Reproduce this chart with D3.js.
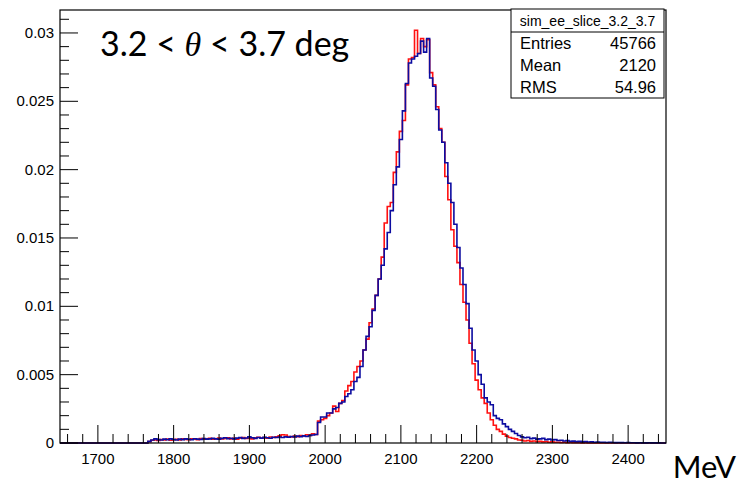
<!DOCTYPE html>
<html>
<head>
<meta charset="utf-8">
<script src="https://cdn.jsdelivr.net/npm/d3@7"></script>
<style>
  html, body { margin: 0; padding: 0; background: #fff; }
  svg { display: block; }
  text { font-family: "Liberation Sans", Arial, sans-serif; fill: #000; }
</style>
</head>
<body>
<svg id="chart" width="740" height="484"></svg>
<script>
// histogram binning: 4 MeV bins, filled values start at 1766 MeV
const xRange = [1650, 2450];
const binWidth = 4;
const firstEdge = 1766;

// bin contents (units of 1e-3)
const redValues = [
  0.10, 0.20, 0.22, 0.18, 0.25, 0.22, 0.28, 0.20, 0.24, 0.27,
  0.22, 0.30, 0.26, 0.24, 0.30, 0.28, 0.25, 0.32, 0.27, 0.30,
  0.34, 0.28, 0.31, 0.36, 0.30, 0.33, 0.38, 0.30, 0.34, 0.28,
  0.35, 0.40, 0.33, 0.36, 0.30, 0.38, 0.42, 0.35, 0.40, 0.36,
  0.44, 0.40, 0.46, 0.52, 0.60, 0.58, 0.48, 0.45, 0.50, 0.47,
  0.55, 0.52, 0.60, 0.56, 0.68, 0.62,
  1.60, 1.70, 1.80, 2.00, 2.20, 2.70, 2.30, 2.90, 3.10, 3.80,
  4.20, 4.50, 5.20, 5.60, 6.00, 6.80, 7.60, 8.80, 9.80, 10.8,
  12.0, 13.6, 16.1, 17.3, 17.6, 19.8, 21.3, 22.8, 23.6, 26.2,
  28.1, 28.2, 30.2, 28.5, 29.6, 29.0, 29.5, 27.1, 26.2, 24.6,
  23.0, 22.0, 19.5, 17.8, 15.6, 14.4, 13.2, 11.6, 10.3, 9.0,
  7.3, 5.8, 4.6, 3.9, 3.3, 2.9, 2.2, 1.7, 1.3, 1.0,
  0.85, 0.65, 0.50, 0.40, 0.35, 0.30, 0.22, 0.20, 0.15, 0.18,
  0.12, 0.15, 0.10, 0.12, 0.08, 0.10, 0.06, 0.08, 0.05, 0.06,
  0.04, 0.05, 0.03, 0.04, 0.02, 0.03, 0.02, 0.01, 0.02
];

const blueValues = [
  0.12, 0.22, 0.30, 0.25, 0.22, 0.28, 0.24, 0.30, 0.26, 0.22,
  0.28, 0.25, 0.30, 0.27, 0.24, 0.31, 0.28, 0.26, 0.33, 0.28,
  0.30, 0.35, 0.30, 0.27, 0.34, 0.38, 0.32, 0.35, 0.30, 0.36,
  0.40, 0.34, 0.37, 0.46, 0.38, 0.34, 0.40, 0.36, 0.42, 0.38,
  0.35, 0.42, 0.40, 0.44, 0.40, 0.45, 0.42, 0.48, 0.44, 0.50,
  0.46, 0.52, 0.48, 0.55, 0.58, 0.62,
  1.50, 1.90, 1.90, 2.20, 2.20, 2.50, 2.60, 2.90, 3.00, 3.40,
  3.60, 3.90, 4.50, 4.80, 5.60, 6.80, 7.80, 8.50, 9.70, 10.8,
  12.0, 13.0, 14.2, 15.4, 17.0, 18.9, 20.2, 22.2, 24.3, 26.3,
  27.8, 28.1, 28.3, 28.5, 29.4, 28.6, 29.6, 26.7, 26.1, 24.4,
  22.9, 22.0, 20.5, 19.0, 17.6, 16.0, 14.3, 12.8, 11.6, 10.2,
  8.4, 6.8, 6.0, 5.0, 4.3, 3.3, 3.0, 2.8, 2.0, 1.8,
  1.7, 1.4, 1.2, 1.0, 0.85, 0.70, 0.55, 0.45, 0.38, 0.42,
  0.32, 0.36, 0.28, 0.30, 0.34, 0.25, 0.28, 0.22, 0.25, 0.18,
  0.20, 0.15, 0.18, 0.12, 0.14, 0.10, 0.12, 0.08, 0.10, 0.07,
  0.08, 0.06, 0.07, 0.05, 0.06, 0.04, 0.05, 0.04, 0.03, 0.04,
  0.03, 0.02, 0.03, 0.02, 0.02, 0.01, 0.02, 0.01, 0.01, 0.02,
  0.01, 0.01, 0.01
];

const xMajorTicks = [1700, 1800, 1900, 2000, 2100, 2200, 2300, 2400];
const yMajorTicks = [0, 0.005, 0.01, 0.015, 0.02, 0.025, 0.03];
const yTickLabels = ["0", "0.005", "0.01", "0.015", "0.02", "0.025", "0.03"];

const statsTitle = "sim_ee_slice_3.2_3.7";
const statsRows = [["Entries", "45766"], ["Mean", "2120"], ["RMS", "54.96"]];

const frame = { left: 60, right: 666, top: 10, bottom: 443 };
const svg = d3.select("#chart");

const x = d3.scaleLinear().domain(xRange).range([frame.left, frame.right]);
const y = d3.scaleLinear().domain([0, 0.03168]).range([frame.bottom, frame.top]);

// --- step path for a histogram, zero outside the filled bins ---
function stepPath(vals) {
  const p = d3.path();
  p.moveTo(x(xRange[0]), y(0));
  p.lineTo(x(firstEdge), y(0));
  vals.forEach((v, i) => {
    const lo = firstEdge + i * binWidth;
    p.lineTo(x(lo), y(v * 1e-3));
    p.lineTo(x(lo + binWidth), y(v * 1e-3));
  });
  const end = firstEdge + vals.length * binWidth;
  p.lineTo(x(end), y(0));
  p.lineTo(x(xRange[1]), y(0));
  return p.toString();
}

// histograms (red under blue)
svg.append("path").attr("d", stepPath(redValues))
  .attr("fill", "none").attr("stroke", "#ff1010").attr("stroke-width", 1.6);
svg.append("path").attr("d", stepPath(blueValues))
  .attr("fill", "none").attr("stroke", "#0c0ca0").attr("stroke-width", 1.6);

// frame
svg.append("rect")
  .attr("x", frame.left).attr("y", frame.top)
  .attr("width", frame.right - frame.left).attr("height", frame.bottom - frame.top)
  .attr("fill", "none").attr("stroke", "#000").attr("stroke-width", 1.2);

// x ticks (inward), major every 100, minor every 20
const xMinor = d3.range(1660, 2450, 20).filter((v) => v % 100 !== 0);
svg.append("g").selectAll("line").data(xMinor).join("line")
  .attr("x1", (d) => x(d)).attr("x2", (d) => x(d))
  .attr("y1", frame.bottom).attr("y2", frame.bottom - 9)
  .attr("stroke", "#000").attr("stroke-width", 1);
svg.append("g").selectAll("line").data(xMajorTicks).join("line")
  .attr("x1", (d) => x(d)).attr("x2", (d) => x(d))
  .attr("y1", frame.bottom).attr("y2", frame.bottom - 18)
  .attr("stroke", "#000").attr("stroke-width", 1);
svg.append("g").selectAll("text").data(xMajorTicks).join("text")
  .attr("x", (d) => x(d)).attr("y", frame.bottom + 21)
  .attr("text-anchor", "middle").attr("font-size", 15)
  .text((d) => d);

// y ticks (inward), major every 0.005, minor every 0.001
const yMinor = d3.range(0, 32).map((i) => i * 0.001).filter((_, i) => i % 5 !== 0);
svg.append("g").selectAll("line").data(yMinor).join("line")
  .attr("x1", frame.left).attr("x2", frame.left + 9)
  .attr("y1", (d) => y(d)).attr("y2", (d) => y(d))
  .attr("stroke", "#000").attr("stroke-width", 1);
svg.append("g").selectAll("line").data(yMajorTicks).join("line")
  .attr("x1", frame.left).attr("x2", frame.left + 18)
  .attr("y1", (d) => y(d)).attr("y2", (d) => y(d))
  .attr("stroke", "#000").attr("stroke-width", 1);
svg.append("g").selectAll("text").data(yMajorTicks).join("text")
  .attr("x", frame.left - 6).attr("y", (d) => y(d) + 5)
  .attr("text-anchor", "end").attr("font-size", 15)
  .text((d, i) => yTickLabels[i]);

// unit label
svg.append("text").attr("x", 736).attr("y", 478).attr("text-anchor", "end")
  .style("font-family", "Lato, 'Open Sans', sans-serif").attr("font-size", 31)
  .text("MeV");

// angular slice label
const lbl = svg.append("text").attr("x", 100).attr("y", 56)
  .style("font-family", "Lato, 'Open Sans', sans-serif").attr("font-size", 34);
lbl.append("tspan").text("3.2 < ");
lbl.append("tspan").style("font-family", "'Liberation Serif', serif")
  .style("font-style", "italic").text("θ");
lbl.append("tspan").text(" < 3.7 deg");

// stats box
const box = { x0: 511, x1: 664, y0: 9, sep: 32, row: 22 };
const boxBottom = box.sep + box.row * statsRows.length;
svg.append("rect").attr("x", box.x0).attr("y", box.y0)
  .attr("width", box.x1 - box.x0).attr("height", boxBottom - box.y0)
  .attr("fill", "#fff").attr("stroke", "#000").attr("stroke-width", 1);
svg.append("line").attr("x1", box.x0).attr("x2", box.x1)
  .attr("y1", box.sep).attr("y2", box.sep).attr("stroke", "#000");
svg.append("text").attr("x", (box.x0 + box.x1) / 2).attr("y", box.sep - 6)
  .attr("text-anchor", "middle").attr("font-size", 14).text(statsTitle);
statsRows.forEach(([k, v], i) => {
  const yy = box.sep + box.row * (i + 1) - 5;
  svg.append("text").attr("x", box.x0 + 9).attr("y", yy)
    .attr("font-size", 16.5).text(k);
  svg.append("text").attr("x", box.x1 - 8).attr("y", yy)
    .attr("text-anchor", "end").attr("font-size", 16.5).text(v);
});
</script>
</body>
</html>
